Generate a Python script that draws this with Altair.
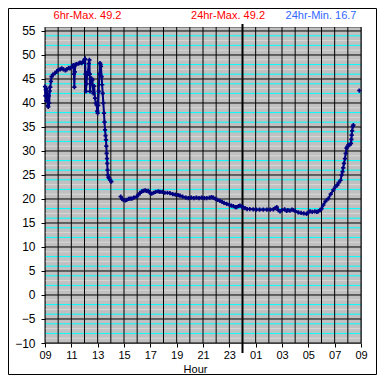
import altair as alt
import pandas as pd

# hours since 09:00 and temperature
hours = [0.00, 0.03, 0.06, 0.09, 0.12, 0.15, 0.18, 0.22, 0.25, 0.28, 0.32, 0.36, 0.40, 0.45, 0.50,
         0.60, 0.76, 0.90, 1.01, 1.15, 1.27, 1.40, 1.55, 1.65, 1.80, 1.90, 2.05, 2.15, 2.20, 2.23,
         2.26, 2.32, 2.40, 2.55, 2.66, 2.80, 2.90, 3.00, 3.04, 3.08, 3.11, 3.15, 3.20, 3.26, 3.32,
         3.37, 3.40, 3.42, 3.48, 3.54, 3.60, 3.67, 3.73, 3.80, 3.86, 3.92, 3.97, 4.00, 4.04, 4.08,
         4.13, 4.18, 4.22, 4.25, 4.30, 4.34, 4.38, 4.43, 4.48, 4.52, 4.56, 4.60, 4.63, 4.66, 4.68,
         4.71, 4.73, 4.75, 4.77, 4.82, 4.88, 4.96, 5.04,
         5.75, 5.85, 5.95, 6.10, 6.20, 6.35, 6.46, 6.60, 6.75, 6.96, 7.10, 7.20, 7.35, 7.47, 7.60,
         7.72, 7.85, 7.95, 8.10, 8.25, 8.40, 8.60, 8.73, 8.90, 9.10, 9.30, 9.49, 9.70, 9.90, 10.10,
         10.25, 10.45, 10.70, 10.89, 11.10, 11.30, 11.50, 11.70, 11.90, 12.10, 12.28, 12.50, 12.65,
         12.78, 12.95, 13.10, 13.29, 13.45, 13.60, 13.80, 14.00, 14.15, 14.30, 14.45, 14.56, 14.70,
         14.81, 14.95, 15.05, 15.19, 15.35, 15.55, 15.82, 16.05, 16.30, 16.58, 16.85, 17.10, 17.34,
         17.50, 17.60, 17.72, 17.85, 18.00, 18.20, 18.35, 18.45, 18.60, 18.75, 18.86, 19.00, 19.24,
         19.45, 19.65, 19.87, 20.00, 20.13, 20.30, 20.50, 20.65, 20.76, 20.90, 21.00, 21.14, 21.30,
         21.52, 21.70, 21.90, 22.05, 22.20, 22.30, 22.45, 22.53, 22.60, 22.65, 22.71, 22.78, 22.84,
         22.90, 22.97, 23.04, 23.15, 23.24, 23.27, 23.29, 23.33, 23.37, 23.42,
         23.87]
temps = [43.4, 41.5, 42.8, 40.5, 43.0, 41.0, 42.0, 39.5, 39.2, 41.5, 40.0, 42.5, 43.3, 44.5, 45.5,
         45.9, 46.2, 46.6, 46.9, 47.0, 47.2, 47.0, 46.8, 47.0, 47.3, 47.2, 47.6, 47.9, 46.0, 43.3,
         46.5, 48.0, 48.1, 48.2, 48.4, 48.3, 48.6, 49.0, 49.2, 46.0, 42.4, 44.0, 45.8, 46.5, 48.2,
         49.0, 46.0, 42.4, 44.0, 45.1, 44.8, 42.0, 43.5, 41.0, 40.0, 39.6, 38.3, 37.9, 39.5, 42.4,
         46.0, 48.3, 48.0, 47.6, 45.5, 43.8, 42.0, 40.0, 37.9, 36.0, 34.4, 33.2, 32.3, 31.0, 29.5,
         28.4, 27.4, 26.0, 25.0, 24.5, 24.3, 23.9, 23.6,
         20.5, 20.0, 19.8, 19.7, 19.8, 20.0, 20.1, 20.1, 20.3, 20.5, 20.9, 21.2, 21.6, 21.7, 21.8,
         21.7, 21.7, 21.3, 21.1, 21.3, 21.5, 21.6, 21.5, 21.5, 21.3, 21.3, 21.2, 21.0, 20.9, 20.8,
         20.7, 20.5, 20.3, 20.2, 20.3, 20.2, 20.3, 20.2, 20.3, 20.2, 20.2, 20.3, 20.4,
         20.3, 20.0, 19.8, 19.6, 19.4, 19.2, 19.0, 18.8, 18.6, 18.5, 18.3, 18.3, 18.5,
         18.6, 18.4, 18.2, 18.1, 17.9, 17.9, 17.85, 17.8, 17.8, 17.8, 17.8, 17.8, 17.85,
         18.1, 18.3, 17.7, 17.4, 17.7, 17.85, 17.5, 17.7, 17.6, 17.8, 17.7, 17.5, 17.2,
         17.1, 17.0, 16.9, 17.2, 17.4, 17.3, 17.4, 17.3, 17.4, 17.7, 18.0, 18.75, 19.5,
         20.1, 21.0, 21.9, 22.5, 22.9, 23.4, 23.9, 25.0, 25.7, 26.5, 27.4, 28.4, 29.5,
         30.6, 30.9, 31.25, 31.3, 31.6, 32.4, 33.3, 34.2, 35.1, 35.4,
         42.6]

header_texts = ["6hr-Max. 49.2", "24hr-Max. 49.2", "24hr-Min. 16.7"]
header_colors = ["#ff0000", "#ff0000", "#3366ff"]
y_ticks = list(range(-10, 56, 5))
x_ticks = list(range(0, 25, 2))
hour_lines = list(range(0, 25))
midnight = [15]
axis_title = "Hour"

seg = []
s = 0
for i, h in enumerate(hours):
    if i > 0 and h - hours[i - 1] > 0.3:
        s += 1
    seg.append(s)
df = pd.DataFrame({"h": hours, "t": temps, "seg": seg})

minor_all = list(range(-10, 56))
cyan_vals = [v for v in minor_all if v % 2 == 0 and v % 5 != 0]
light_vals = [v for v in minor_all if v % 2 != 0 and v % 5 != 0]

FONT = "Liberation Sans"
xscale = alt.Scale(domain=[0, 24], nice=False, zero=False)
yscale = alt.Scale(domain=[-10, 55.83], nice=False, zero=False)
xaxis = alt.Axis(values=x_ticks, labelExpr="format((datum.value + 9) % 24, '02d')",
                 grid=False, domain=False, tickColor="black", tickSize=4, labelFlush=False,
                 labelFont=FONT, labelFontSize=11, labelColor="black", labelPadding=2,
                 title=axis_title, titleFont=FONT, titleFontSize=11, titleFontWeight="normal",
                 titleColor="black", titleX=150, titleY=29.5, titleBaseline="alphabetic",
                 titleAnchor="start", titleAlign="center")
yaxis = alt.Axis(values=y_ticks, grid=False, domain=False, tickColor="black", tickSize=4,
                 labelFlush=False,
                 labelFont=FONT, labelFontSize=12, labelColor="black", labelPadding=6, title=None)


def X(f):
    return alt.X(f, type="quantitative", scale=xscale, axis=xaxis)


def Y(f):
    return alt.Y(f, type="quantitative", scale=yscale, axis=yaxis)


light = alt.Chart(pd.DataFrame({"v": light_vals})).mark_rule(color="#d8d8d8", strokeWidth=1).encode(y=Y("v"))
cyan = alt.Chart(pd.DataFrame({"v": cyan_vals})).mark_rule(color="#00ffff", strokeWidth=1).encode(y=Y("v"))
black_h = alt.Chart(pd.DataFrame({"v": y_ticks})).mark_rule(color="black", strokeWidth=1).encode(y=Y("v"))
black_v = alt.Chart(pd.DataFrame({"hh": hour_lines})).mark_rule(color="black", strokeWidth=1).encode(x=X("hh"))
mid = alt.Chart(pd.DataFrame({"hh": midnight})).mark_rule(color="black", strokeWidth=2).encode(
    x=X("hh"), y=alt.value(-3), y2=alt.value(326))

line = alt.Chart(df).mark_line(color="#000080", strokeWidth=2).encode(x=X("h"), y=Y("t"), detail="seg:N")
pts = alt.Chart(df).mark_point(shape="cross", filled=True, size=18, color="#000080", opacity=1).encode(
    x=X("h"), y=Y("t"))

hx = [42.5, 183, 276]
texts = []
for txt, col, xx in zip(header_texts, header_colors, hx):
    texts.append(alt.Chart(pd.DataFrame({"s": [txt]})).mark_text(
        font=FONT, fontSize=11, color=col, align="center", baseline="alphabetic").encode(
        text="s:N", x=alt.value(xx), y=alt.value(-8)))

frame = alt.Chart(pd.DataFrame({"a": [0]})).mark_rect(fill=None, stroke="black", strokeWidth=1).encode(
    x=alt.value(-36.5), x2=alt.value(331.5), y=alt.value(-18.5), y2=alt.value(347.5))

chart = alt.layer(light, cyan, black_h, black_v, mid, line, pts, *texts, frame).properties(
    width=316, height=316,
    autosize=alt.AutoSizeParams(type="none"),
    padding={"left": 37, "top": 19, "right": 16, "bottom": 32},
    background="white",
).configure_view(fill="#c0c0c0", stroke="#808080", strokeWidth=1)

chart.save("out.html", embed_options={"renderer": "svg", "actions": False})
